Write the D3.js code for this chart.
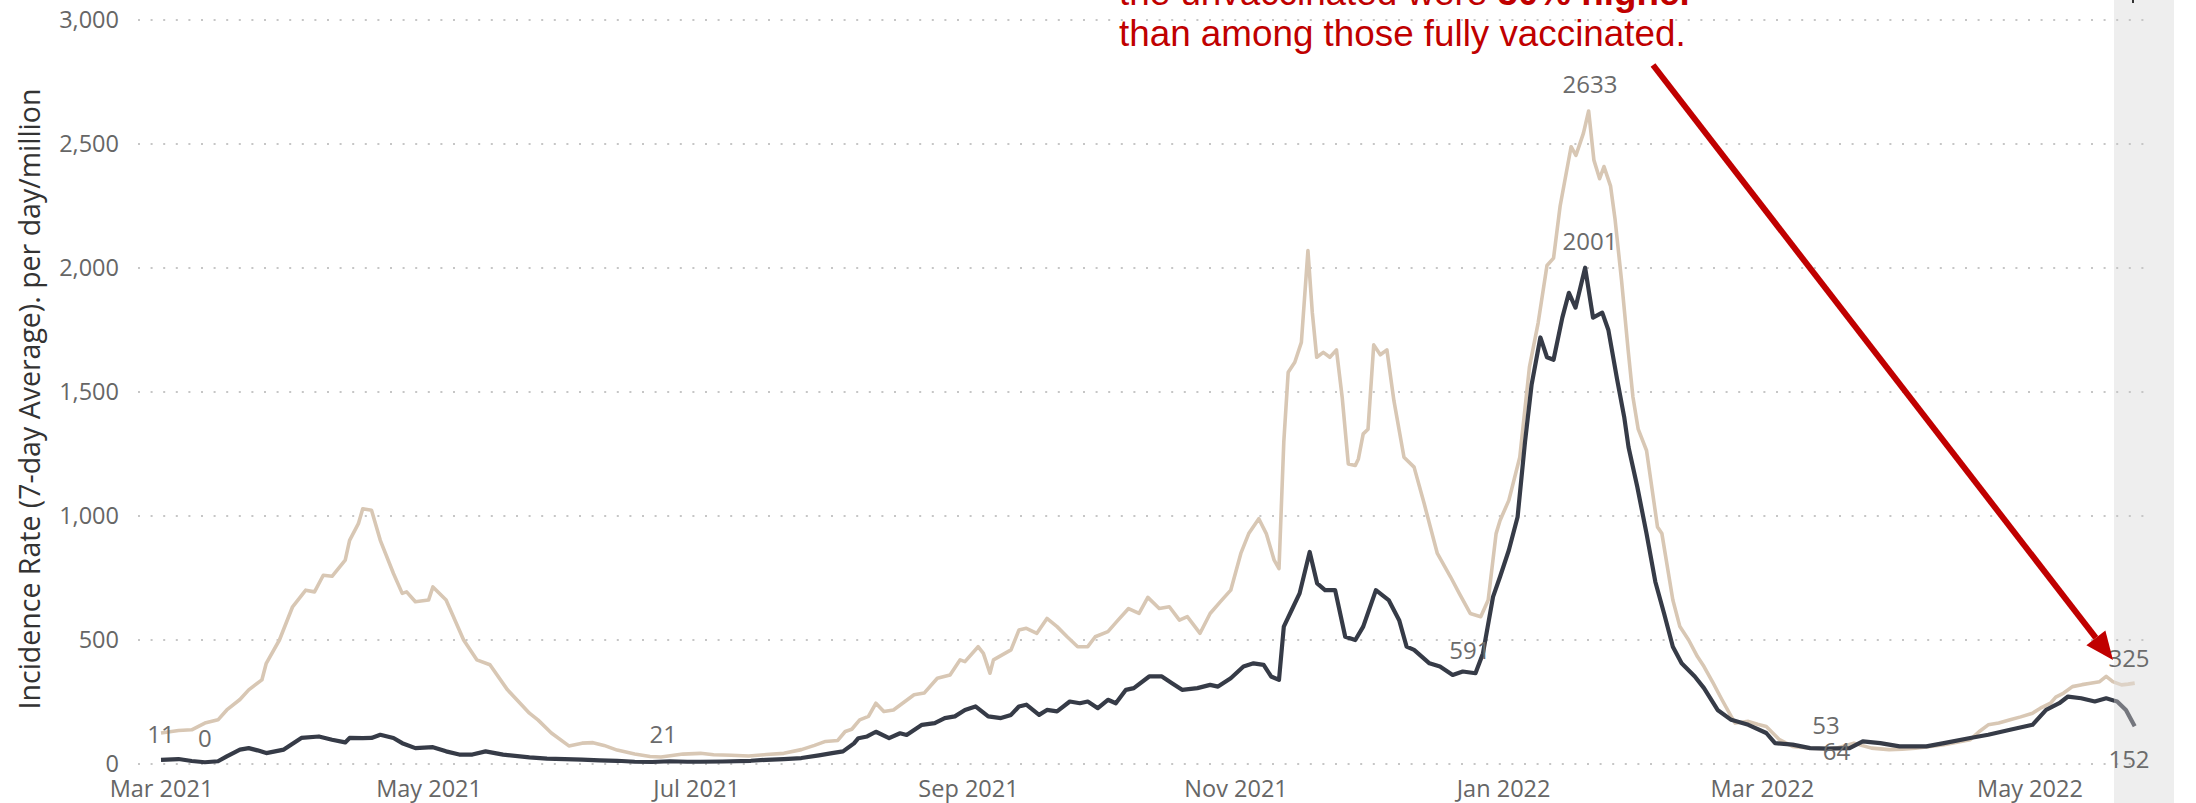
<!DOCTYPE html>
<html>
<head>
<meta charset="utf-8">
<script src="https://cdn.jsdelivr.net/npm/d3@7"></script>
<style>
  html, body { margin: 0; padding: 0; background: #ffffff; }
  svg { display: block; }
</style>
</head>
<body>
<script>
// ---------------- DATA ----------------
const startDate = "2021-03-01";          // day 0 of the series
const endDay = 450;                        // last day shown (2022-05-25)

// Unvaccinated (tan) – days since start, incidence per day per million
const unvaxDay = [0,4,7,10,13,15,18,20,23,24,27,30,33,35,37,39,42,43,45,46,48,50,53,55,56,58,61,62,65,69,72,75,79,84,86,89,93,96,98.5,101,104,108,111.5,114,119,123,126,130,134,138,142,146,149,151.5,154.3,156,157.5,159.3,161.3,163,164.8,167,171.7,174,177,179.9,182.2,183.3,186.3,187.5,189,189.8,193.8,195.6,197.3,199.7,202,204.3,206.6,209,211.3,213,215.9,218.2,220.6,223,225,227.6,229.9,232.2,234,236.9,239.2,241.5,243.9,246.2,248,250.3,252,253.8,254.9,256,257,258.5,260,261.5,262.5,263.5,265,266.5,268,269.3,270.7,272.3,273,274.1,275.2,276.5,278,279.5,281.1,283.4,285.7,288,291,294,296,298.5,300.9,302.6,304.4,305.3,307.3,309.8,312,314,316,317.5,319,321.5,322.6,324.3,325.5,326.7,328,329,330.5,331.5,333,334.5,335.6,336.8,338.7,341.2,342.2,344.7,346.3,348.3,350.3,351.8,353.9,355.9,358,358.9,361.9,364,366,369,372,376,379,382,386,390,394,397,400,403,406.5,409.5,412.5,414.5,416.6,419,421.6,424,426.7,428.5,430.8,432,433.8,435.8,438,439.9,442,443.5,445,447,448.5,450];
const unvaxRate = [125,135,138,165,178,218,260,299,339,406,500,634,701,694,761,757,822,902,969,1029,1023,902,768,688,694,654,661,714,661,500,420,400,299,205,177,125,73,84,86,75,56,40,30,28,40,43,37,35,32,38,43,58,75,91,95,131,140,178,192,245,212,218,279,286,346,359,420,413,473,446,366,420,460,540,547,527,587,554,513,473,473,513,534,580,627,607,672,627,634,580,594,527,607,654,701,849,929,989,929,822,788,1300,1580,1620,1700,2070,1820,1640,1660,1640,1670,1480,1210,1204,1230,1331,1350,1690,1650,1670,1465,1237,1197,1050,849,755,688,607,594,661,929,982,1063,1237,1600,1780,2010,2040,2250,2489,2454,2543,2633,2435,2360,2409,2330,2200,1950,1670,1480,1350,1264,956,929,661,554,500,433,393,326,259,192,165,172,160,151,98,71,64,62,64,84,64,58,60,64,70,78,88,98,130,158,165,178,190,205,225,245,270,286,312,320,326,332,353,332,319,322,326];

// Fully vaccinated (dark)
const vaxDay = [0,4,7,10,13,15,18,20,22,24,28,32,36,39,42,43,46,48,50,53,55,58,62,65,68,71,74,78,84,88,92,96,100,104,108,112,116,120,123,128,134.5,138,142,146,150,153,155.5,158,159,161,163,166,168.5,170,173.5,176.4,178.7,181,183.3,185.7,188.6,191.5,193.8,195.6,197.3,200.2,202,204.3,207.2,209.5,211.3,213.6,215.9,217.7,220,221.8,225.3,228.2,230.5,232.8,236.3,239.2,241,243.9,246.8,249.1,251.4,253.1,254.9,256,257.8,259.6,261.9,263.6,265.4,267.7,270,272.3,274.1,277,279.9,282.3,284,285.7,289.2,291.6,294.5,296.8,299.7,301.4,303.7,305.3,307.3,309.3,311,312.5,314.5,316,317.5,319.5,321,322.5,324.7,326.5,328.6,330,332,333.6,334.6,336.6,338.7,340.7,342.7,344.7,346.7,349.7,351.8,354.9,358,361.9,366,368,372,376,380,385,388,392,396.4,402.5,406.5,412.5,416.6,421.6,426.7,429.8,432.8,434.8,437.8,440.9,443.5,446,448,450];
const vaxRate = [17,20,12,7,11,31,58,64,55,44,58,105,111,98,87,105,104,105,118,105,84,64,68,51,38,38,51,38,27,22,20,18,15,13,9,8,11,9,9,10,13,17,20,24,35,44,51,83,104,111,130,104,124,117,158,165,185,192,218,232,192,185,198,232,239,198,218,212,252,245,252,225,259,245,299,306,353,353,326,299,306,319,312,346,393,406,400,353,339,554,621,688,855,728,701,701,513,500,554,701,661,580,473,460,406,393,359,373,366,446,674,755,862,996,1300,1530,1720,1640,1630,1800,1900,1840,2001,1800,1820,1750,1550,1400,1277,1117,929,735,607,473,406,353,306,218,178,158,125,84,78,64,62,64,91,84,71,71,84,105,118,138,158,218,245,272,265,252,265,252,218,152];

const yTicks = [0, 500, 1000, 1500, 2000, 2500, 3000];
const yTitle = "Incidence Rate (7-day Average). per day/million";

// Data labels (text and the data-space point they sit on)
const labelText  = ["11", "0", "21", "591", "2633", "2001", "53", "64", "325", "152"];
const labelDay   = [0, 10, 114.5, 298.4, 325.8, 325.8, 379.6, 382, 448.7, 448.7];
const labelValue = [121, 105, 121, 460, 2742, 2109, 161, 56, 431, 24];

const noteLine1a = "the unvaccinated were ";
const noteLine1b = "50% higher";
const noteLine2  = "than among those fully vaccinated.";

// ---------------- DRAW ----------------
const W = 2196, H = 803;
const svg = d3.select("body").append("svg").attr("width", W).attr("height", H);

const t0 = Date.parse(startDate + "T00:00:00Z");
const toDate = d => new Date(t0 + d * 864e5);

const x = d3.scaleUtc().domain([toDate(0), toDate(endDay)]).range([161, 161 + endDay * 4.386]);
const y = d3.scaleLinear().domain([0, 3000]).range([764, 20]);

const bandX0 = 2114, bandX1 = 2174;

// grey "latest" band
svg.append("rect").attr("x", bandX0).attr("y", 0).attr("width", bandX1 - bandX0).attr("height", H).attr("fill", "#eeeeee");
svg.append("rect").attr("x", 2132).attr("y", 0).attr("width", 2).attr("height", 3).attr("fill", "#333333");

// gridlines
svg.append("g").selectAll("line").data(yTicks).join("line")
  .attr("x1", 138).attr("x2", 2148)
  .attr("y1", d => y(d)).attr("y2", d => y(d))
  .attr("stroke", "#c6c6c6").attr("stroke-width", 2)
  .attr("stroke-dasharray", "2 10.6");

// y axis
const yAxis = svg.append("g").attr("transform", "translate(119,0)")
  .call(d3.axisLeft(y).tickValues(yTicks).tickFormat(d3.format(",")).tickSize(0).tickPadding(0));
yAxis.select(".domain").remove();
yAxis.selectAll("text").attr("font-family", "'Open Sans', sans-serif").attr("font-size", 23.5).attr("fill", "#666666");

// x axis
const xAxis = svg.append("g").attr("transform", "translate(0,764)")
  .call(d3.axisBottom(x).ticks(d3.utcMonth.every(2)).tickFormat(d3.utcFormat("%b %Y")).tickSize(0).tickPadding(16));
xAxis.select(".domain").remove();
xAxis.selectAll("text").attr("font-family", "'Open Sans', sans-serif").attr("font-size", 23.5).attr("fill", "#666666");

// y title
svg.append("text")
  .attr("transform", "translate(29,399) rotate(-90)")
  .attr("text-anchor", "middle").attr("dominant-baseline", "central")
  .attr("font-family", "'Open Sans', sans-serif").attr("font-size", 28.5).attr("fill", "#333333")
  .text(yTitle);

// clips for the band
const defs = svg.append("defs");
defs.append("clipPath").attr("id", "main").append("rect").attr("x", 0).attr("y", 0).attr("width", bandX0).attr("height", H);
defs.append("clipPath").attr("id", "band").append("rect").attr("x", bandX0).attr("y", 0).attr("width", W - bandX0).attr("height", H);

const line = d3.line().x(d => x(toDate(d[0]))).y(d => y(d[1]));
const unvax = d3.zip(unvaxDay, unvaxRate);
const vax = d3.zip(vaxDay, vaxRate);

function drawSeries(data, color, bandColor, width) {
  svg.append("path").datum(data).attr("d", line).attr("fill", "none")
    .attr("stroke", color).attr("stroke-width", width).attr("stroke-linejoin", "round")
    .attr("clip-path", "url(#main)");
  svg.append("path").datum(data).attr("d", line).attr("fill", "none")
    .attr("stroke", bandColor).attr("stroke-width", width).attr("stroke-linejoin", "round")
    .attr("clip-path", "url(#band)");
}
drawSeries(unvax, "#d8c7b4", "#ddd2c6", 3.6);
drawSeries(vax, "#363b47", "#75777e", 4.2);

// data labels
svg.append("g").selectAll("text").data(d3.range(labelText.length)).join("text")
  .attr("x", i => x(toDate(labelDay[i])))
  .attr("y", i => y(labelValue[i]))
  .attr("text-anchor", "middle").attr("dominant-baseline", "central")
  .attr("font-family", "'Open Sans', sans-serif").attr("font-size", 24).attr("fill", "#6b6b6b")
  .text(i => labelText[i]);

// annotation text
const note = svg.append("g").attr("font-family", "'Liberation Sans', Arial, sans-serif").attr("font-size", 36.8).attr("fill", "#c00000");
const l1 = note.append("text").attr("x", 1119).attr("y", 5);
l1.append("tspan").text(noteLine1a);
l1.append("tspan").attr("font-weight", "bold").text(noteLine1b);
note.append("text").attr("x", 1119).attr("y", 46).text(noteLine2);

// arrow
const ax0 = 1653, ay0 = 65, ax1 = 2113, ay1 = 660;
const ang = Math.atan2(ay1 - ay0, ax1 - ax0);
const headLen = 28, headHalf = 12;
const bx = ax1 - headLen * Math.cos(ang), by = ay1 - headLen * Math.sin(ang);
svg.append("line").attr("x1", ax0).attr("y1", ay0).attr("x2", bx).attr("y2", by)
  .attr("stroke", "#c00000").attr("stroke-width", 6);
svg.append("path")
  .attr("d", `M${ax1},${ay1} L${bx + headHalf * Math.sin(ang)},${by - headHalf * Math.cos(ang)} L${bx - headHalf * Math.sin(ang)},${by + headHalf * Math.cos(ang)} Z`)
  .attr("fill", "#c00000");
</script>
</body>
</html>
